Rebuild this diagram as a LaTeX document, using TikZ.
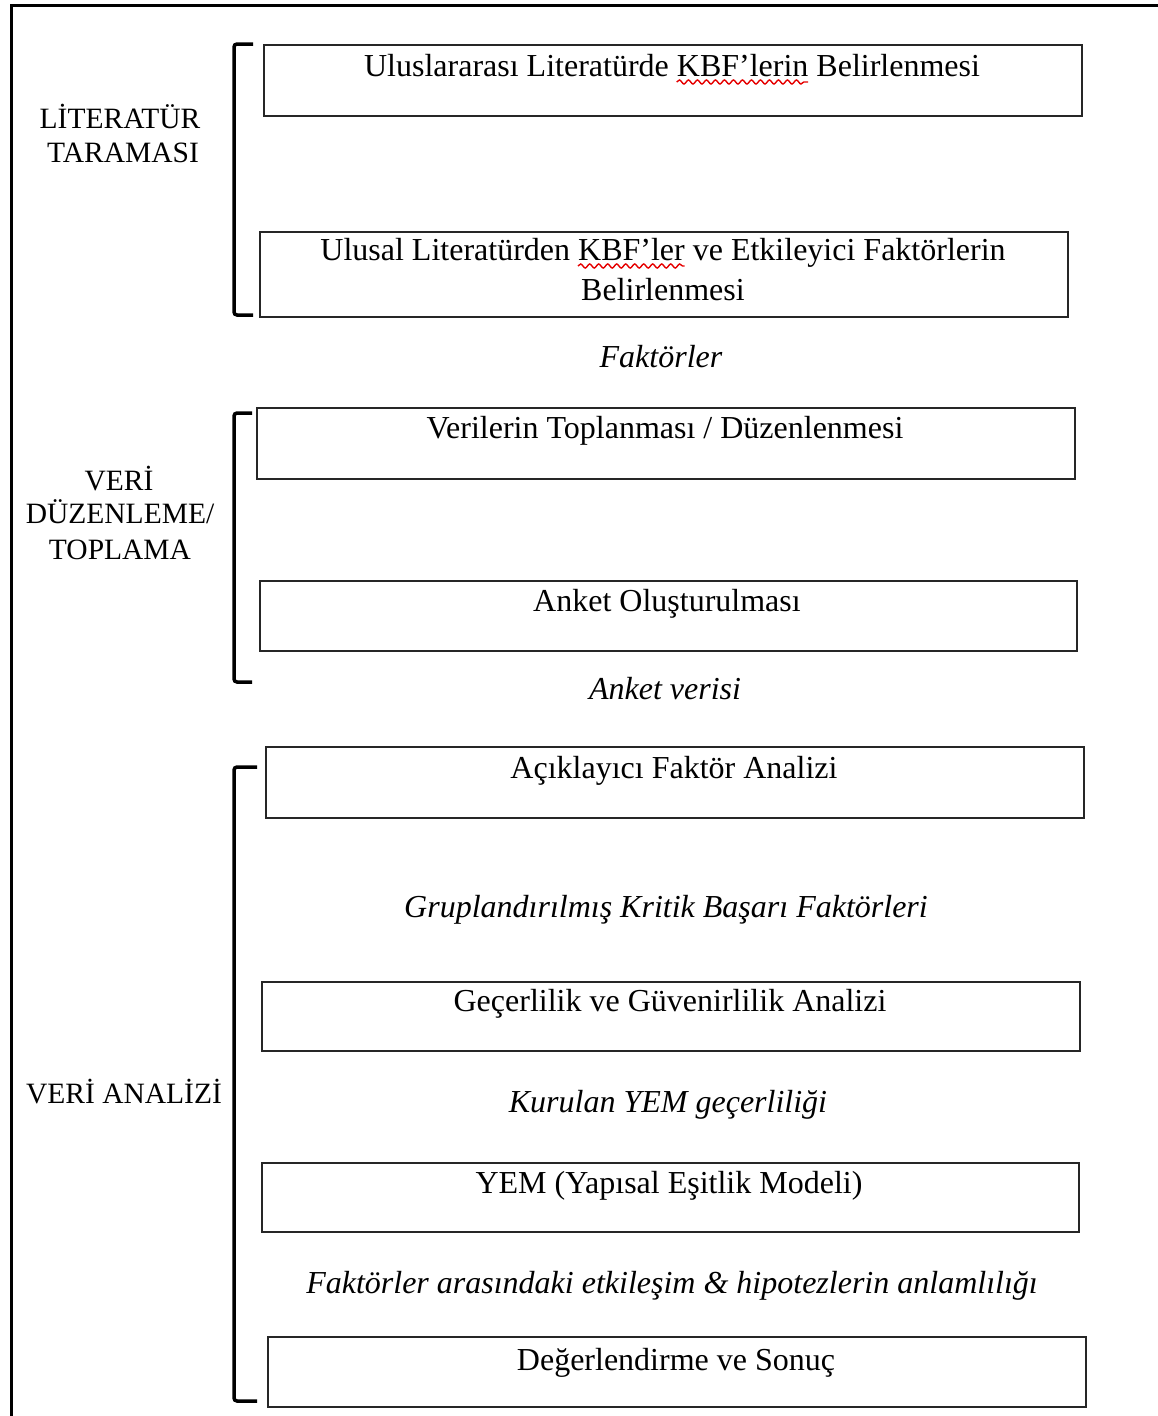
\documentclass[tikz,border=0pt]{standalone}
\usepackage{fontspec}
\setmainfont{Liberation Serif}
\usetikzlibrary{decorations.pathmorphing}

\newlength\preA \newlength\wordA
\newlength\preB \newlength\wordB
\newcommand\bodyfont{\fontsize{32}{40}\selectfont}

\begin{document}
% widths used to place the wavy spelling marks
\settowidth\preA{\bodyfont Uluslararası Literatürde\ }%
\settowidth\wordA{\bodyfont KBF’lerin}%
\settowidth\preB{\bodyfont Ulusal Literatürden\ }%
\settowidth\wordB{\bodyfont KBF’ler}%
\begin{tikzpicture}[x=1pt,y=-1pt,
  frame/.style={line width=3pt, line cap=rect},
  stepbox/.style={draw=black!85, line width=2pt, anchor=north west, inner sep=0pt},
  boxtext/.style={font=\bodyfont, inner sep=0pt, anchor=base},
  flowtext/.style={font=\bodyfont\itshape, inner sep=0pt, anchor=base},
  phase/.style={font=\fontsize{29.5}{34.5}\selectfont, inner sep=0pt, anchor=base},
  bracket/.style={line width=3.5pt, rounded corners=3pt},
  spell/.style={draw=red!90!black, line width=1.4pt, decorate,
    decoration={snake, amplitude=2pt, segment length=9pt}}]

% fixed canvas
\useasboundingbox (0,0) rectangle (1158,1416);

% outer frame (left and top edges)
\coordinate (fbl) at (11.5,1416);
\coordinate (ftl) at (11.5,5.5);
\coordinate (ftr) at (1158,5.5);
\draw[frame] (fbl) -- (ftl) -- (ftr);

% ---- boxes ----
\node[stepbox, minimum width=818pt, minimum height=71pt] (b1) at (263,44) {};
\node[stepbox, minimum width=808pt, minimum height=85pt] (b2) at (259,231) {};
\node[stepbox, minimum width=818pt, minimum height=71pt] (b3) at (256,407) {};
\node[stepbox, minimum width=817pt, minimum height=70pt] (b4) at (259,580) {};
\node[stepbox, minimum width=818pt, minimum height=71pt] (b5) at (265,746) {};
\node[stepbox, minimum width=818pt, minimum height=69pt] (b6) at (261,981) {};
\node[stepbox, minimum width=817pt, minimum height=69pt] (b7) at (261,1162) {};
\node[stepbox, minimum width=818pt, minimum height=70pt] (b8) at (267,1336) {};

% ---- box captions ----
\node[boxtext] (t1) at (672,76) {Uluslararası Literatürde KBF’lerin Belirlenmesi};
\node[boxtext] (t2) at (663,260) {Ulusal Literatürden KBF’ler ve Etkileyici Faktörlerin};
\node[boxtext] (t2b) at (663,300) {Belirlenmesi};
\node[boxtext] (t3) at (665,438) {Verilerin Toplanması / Düzenlenmesi};
\node[boxtext] (t4) at (667,611) {Anket Oluşturulması};
\node[boxtext] (t5) at (674,778) {Açıklayıcı Faktör Analizi};
\node[boxtext] (t6) at (670,1011) {Geçerlilik ve Güvenirlilik Analizi};
\node[boxtext] (t7) at (669,1193) {YEM (Yapısal Eşitlik Modeli)};
\node[boxtext] (t8) at (676,1370) {Değerlendirme ve Sonuç};

% ---- outputs between steps ----
\node[flowtext] (o1) at (661,367) {Faktörler};
\node[flowtext] (o2) at (665,699) {Anket verisi};
\node[flowtext] (o3) at (666,917) {Gruplandırılmış Kritik Başarı Faktörleri};
\node[flowtext] (o4) at (668,1112) {Kurulan YEM geçerliliği};
\node[flowtext] (o5) at (672,1293) {Faktörler arasındaki etkileşim \& hipotezlerin anlamlılığı};

% ---- spelling marks ----
\draw[spell] ([xshift=\preA, yshift=-6pt]t1.base west) -- ++(\wordA,0);
\draw[spell] ([xshift=\preB, yshift=-6pt]t2.base west) -- ++(\wordB,0);

% ---- phase brackets ----
\coordinate (k1a) at (253,44);  \coordinate (k1b) at (234,44);
\coordinate (k1c) at (234,315); \coordinate (k1d) at (253,315);
\draw[bracket] (k1a) -- (k1b) -- (k1c) -- (k1d);

\coordinate (k2a) at (252,413); \coordinate (k2b) at (234,413);
\coordinate (k2c) at (234,682); \coordinate (k2d) at (252,682);
\draw[bracket] (k2a) -- (k2b) -- (k2c) -- (k2d);

\coordinate (k3a) at (257,767);  \coordinate (k3b) at (234,767);
\coordinate (k3c) at (234,1401); \coordinate (k3d) at (257,1401);
\draw[bracket] (k3a) -- (k3b) -- (k3c) -- (k3d);

% ---- phase labels ----
\node[phase] (p1a) at (120,128) {LİTERATÜR};
\node[phase] (p1b) at (123,162) {TARAMASI};
\node[phase] (p2a) at (119,490) {VERİ};
\node[phase] (p2b) at (120,523) {DÜZENLEME/};
\node[phase] (p2c) at (120,559) {TOPLAMA};
\node[phase] (p3) at (124,1103) {VERİ ANALİZİ};
\end{tikzpicture}
\end{document}
